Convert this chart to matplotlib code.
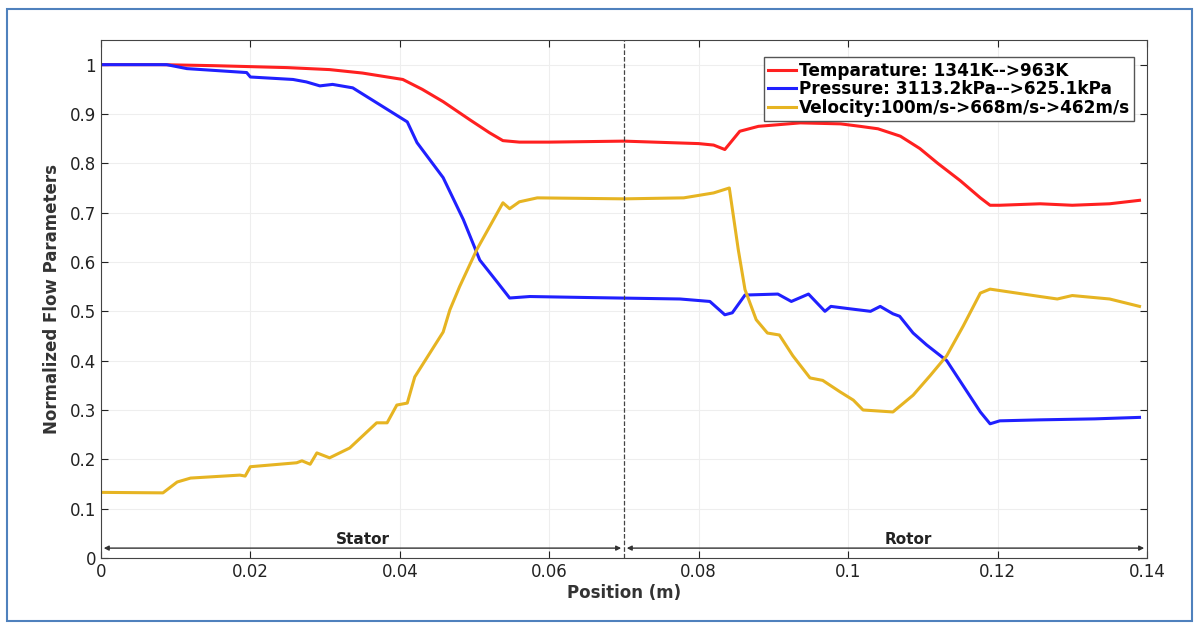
import matplotlib
matplotlib.use("Agg")
import matplotlib.pyplot as plt
from matplotlib.patches import Rectangle

# temperature (normalized)
t_x = [0, 0.008, 0.015, 0.02, 0.025, 0.0306, 0.035, 0.0404, 0.043, 0.0458, 0.0494, 0.052,
       0.0538, 0.056, 0.06, 0.07, 0.08, 0.082, 0.0835, 0.0855, 0.088, 0.0936, 0.099,
       0.1016, 0.104, 0.107, 0.1096, 0.112, 0.115, 0.1177, 0.119, 0.1203, 0.1257, 0.13,
       0.135, 0.139]
t_y = [1.0, 1.0, 0.998, 0.996, 0.994, 0.99, 0.983, 0.97, 0.95, 0.925, 0.888, 0.862,
       0.846, 0.843, 0.843, 0.845, 0.84, 0.837, 0.828, 0.865, 0.875, 0.882, 0.88,
       0.875, 0.87, 0.855, 0.83, 0.80, 0.765, 0.73, 0.715, 0.715, 0.718, 0.715,
       0.718, 0.725]

# pressure (normalized)
p_x = [0, 0.0088, 0.0115, 0.0195, 0.02, 0.0257, 0.0275, 0.0293, 0.031, 0.0337, 0.0373,
       0.041, 0.0423, 0.0458, 0.0485, 0.0507, 0.053, 0.0547, 0.0574, 0.065, 0.0775, 0.0815,
       0.0835, 0.0845, 0.0862, 0.0906, 0.0924, 0.0947, 0.0969, 0.0977, 0.1003, 0.103,
       0.1043, 0.106, 0.1069, 0.1087, 0.1105, 0.1132, 0.1177, 0.119, 0.1203, 0.1257,
       0.133, 0.139]
p_y = [1.0, 1.0, 0.992, 0.984, 0.975, 0.97, 0.965, 0.957, 0.96, 0.953, 0.919,
       0.884, 0.842, 0.771, 0.686, 0.604, 0.56, 0.527, 0.53, 0.528, 0.525, 0.52,
       0.493, 0.497, 0.533, 0.535, 0.52, 0.535, 0.50, 0.51, 0.505, 0.50,
       0.51, 0.495, 0.49, 0.456, 0.432, 0.40, 0.296, 0.272, 0.278, 0.28,
       0.282, 0.285]

# velocity (normalized)
v_x = [0, 0.0083, 0.0102, 0.012, 0.0186, 0.0193, 0.02, 0.0262, 0.0269, 0.028, 0.0289,
       0.0306, 0.0333, 0.0369, 0.0383, 0.0396, 0.041, 0.042, 0.0458, 0.0467, 0.048,
       0.0503, 0.0538, 0.0547, 0.056, 0.0584, 0.07, 0.078, 0.082, 0.0841, 0.0853, 0.0862,
       0.0877, 0.0892, 0.0908, 0.0926, 0.0949, 0.0966, 0.0989, 0.1007, 0.102, 0.106,
       0.1087, 0.111, 0.1132, 0.1154, 0.1177, 0.119, 0.1257, 0.128, 0.13, 0.135, 0.139]
v_y = [0.133, 0.132, 0.154, 0.162, 0.168, 0.166, 0.185, 0.193, 0.197, 0.19, 0.213,
       0.203, 0.223, 0.274, 0.274, 0.31, 0.314, 0.367, 0.458, 0.503, 0.55,
       0.625, 0.72, 0.708, 0.722, 0.73, 0.728, 0.73, 0.74, 0.75, 0.625, 0.544,
       0.483, 0.456, 0.452, 0.41, 0.365, 0.36, 0.337, 0.32, 0.30, 0.296,
       0.33, 0.37, 0.41, 0.47, 0.537, 0.545, 0.53, 0.525, 0.532, 0.525, 0.51]

labels = ['Temparature: 1341K-->963K',
          'Pressure: 3113.2kPa-->625.1kPa',
          'Velocity:100m/s->668m/s->462m/s']

fig = plt.figure(figsize=(11.99, 6.24), dpi=100)
fig.patches.append(Rectangle((0.006, 0.005), 0.988, 0.98, transform=fig.transFigure,
                             fill=False, edgecolor='#4f81bd', linewidth=1.5))
ax = fig.add_axes([0.0842, 0.1058, 0.8724, 0.8301])

ax.plot(t_x, t_y, color='#ff2020', lw=2.2, label=labels[0])
ax.plot(p_x, p_y, color='#2020ff', lw=2.2, label=labels[1])
ax.plot(v_x, v_y, color='#e6b422', lw=2.2, label=labels[2])

ax.axvline(0.07, color='#444444', ls='--', lw=0.9)

# stator / rotor arrows
ax.annotate('', xy=(0, 0.02), xytext=(0.07, 0.02),
            arrowprops=dict(arrowstyle='<|-|>', color='#333333', lw=1, mutation_scale=7))
ax.annotate('', xy=(0.07, 0.02), xytext=(0.14, 0.02),
            arrowprops=dict(arrowstyle='<|-|>', color='#333333', lw=1, mutation_scale=7))
ax.text(0.035, 0.022, 'Stator', ha='center', va='bottom', fontsize=11, fontweight='bold', color='#222222')
ax.text(0.108, 0.022, 'Rotor', ha='center', va='bottom', fontsize=11, fontweight='bold', color='#222222')

ax.set_xlim(0, 0.14)
ax.set_ylim(0, 1.05)
ax.set_xticks([0, 0.02, 0.04, 0.06, 0.08, 0.1, 0.12, 0.14])
ax.set_xticklabels(['0', '0.02', '0.04', '0.06', '0.08', '0.1', '0.12', '0.14'])
ax.set_yticks([0, 0.1, 0.2, 0.3, 0.4, 0.5, 0.6, 0.7, 0.8, 0.9, 1])
ax.set_yticklabels(['0', '0.1', '0.2', '0.3', '0.4', '0.5', '0.6', '0.7', '0.8', '0.9', '1'])
ax.tick_params(direction='in', top=True, right=True, labelsize=12, colors='#222222', length=5)
ax.grid(True, color='#eeeeee', lw=0.8)
for s in ax.spines.values():
    s.set_color('#444444')

ax.set_xlabel('Position (m)', fontsize=12, fontweight='bold', color='#333333', labelpad=2)
ax.set_ylabel('Normalized Flow Parameters', fontsize=12, fontweight='bold', color='#333333', labelpad=6)

leg = ax.legend(loc='upper right', handlelength=1.6, handletextpad=0.2,
                borderpad=0.25, labelspacing=0.05, fancybox=False, framealpha=1,
                prop={'weight': 'bold', 'size': 12.2}, bbox_to_anchor=(0.996, 0.983))
leg.get_frame().set_edgecolor('#555555')

fig.savefig('out.png', dpi=100)
